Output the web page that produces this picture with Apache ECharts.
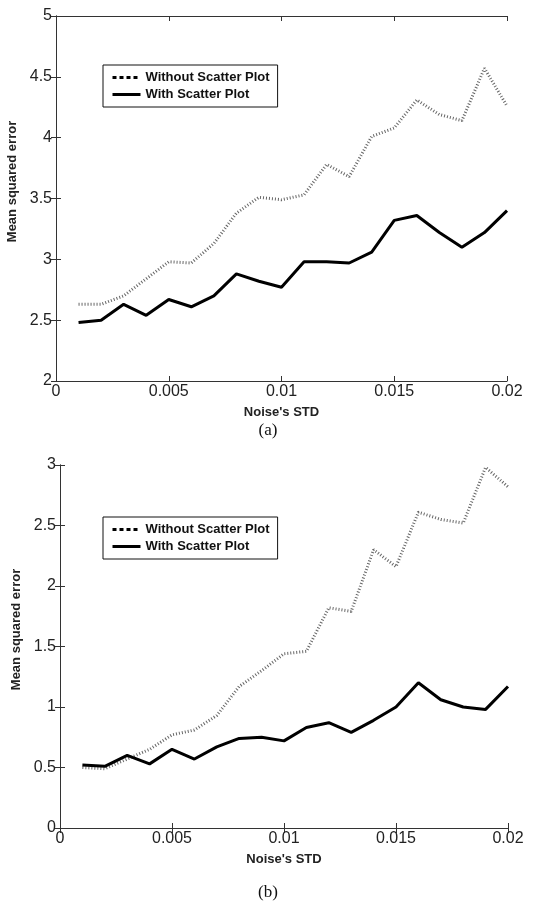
<!DOCTYPE html>
<html>
<head>
<meta charset="utf-8">
<script src="https://cdn.jsdelivr.net/npm/echarts@6/dist/echarts.min.js"></script>
<style>
  html, body { margin: 0; padding: 0; background: #fff; }
  #chart { width: 536px; height: 902px; }
</style>
</head>
<body>
<div id="chart"></div>
<script>
// noise standard deviation (x values)
const noiseStd = [0.001, 0.002, 0.003, 0.004, 0.005, 0.006, 0.007, 0.008, 0.009, 0.010,
    0.011, 0.012, 0.013, 0.014, 0.015, 0.016, 0.017, 0.018, 0.019, 0.020]

// panel (a)
const withoutA = [2.63, 2.63, 2.70, 2.84, 2.98, 2.97, 3.13, 3.38, 3.51, 3.49,
    3.53, 3.78, 3.68, 4.01, 4.08, 4.31, 4.19, 4.14, 4.57, 4.26]
const withA = [2.48, 2.50, 2.63, 2.54, 2.67, 2.61, 2.70, 2.88, 2.82, 2.77,
    2.98, 2.98, 2.97, 3.06, 3.32, 3.36, 3.22, 3.10, 3.22, 3.40]

// panel (b)
const withoutB = [0.50, 0.49, 0.57, 0.65, 0.77, 0.81, 0.93, 1.17, 1.30, 1.44,
    1.46, 1.82, 1.79, 2.30, 2.16, 2.61, 2.55, 2.52, 2.98, 2.82]
const withB = [0.52, 0.51, 0.60, 0.53, 0.65, 0.57, 0.67, 0.74, 0.75, 0.72,
    0.83, 0.87, 0.79, 0.89, 1.00, 1.20, 1.06, 1.00, 0.98, 1.17]

const seriesNames = ['Without Scatter Plot', 'With Scatter Plot']
const panelLabels = ['(a)', '(b)']

const pair = ys => noiseStd.map((x, i) => [x, ys[i]])

const sans = 'Liberation Sans, Arial, sans-serif'
const frame = { show: true, lineStyle: { color: '#333', width: 1 } }

function xAxes(gridIndex) {
    const base = {
        type: 'value', gridIndex, min: 0, max: 0.02, interval: 0.005,
        splitLine: { show: false },
        axisLine: frame,
        axisTick: { show: true, inside: true, length: 5, lineStyle: { color: '#333' } }
    }
    return [
        {
            ...base,
            position: 'bottom',
            axisLabel: { fontFamily: sans, fontSize: 16, color: '#222', margin: 3 },
            name: "Noise's STD",
            nameLocation: 'middle',
            nameGap: 25,
            nameTextStyle: { fontFamily: sans, fontSize: 13, fontWeight: 'bold', color: '#222' }
        },
        { ...base, position: 'top', axisLabel: { show: false } }
    ]
}

function yAxes(gridIndex, min, max) {
    const base = {
        type: 'value', gridIndex, min, max, interval: 0.5,
        splitLine: { show: false },
        axisLine: frame,
        axisTick: { show: true, inside: true, length: 5, lineStyle: { color: '#333' } }
    }
    return [
        {
            ...base,
            position: 'left',
            axisLabel: { fontFamily: sans, fontSize: 16, color: '#222', margin: 4 },
            name: 'Mean squared error',
            nameLocation: 'middle',
            nameGap: 37,
            nameRotate: 90,
            nameTextStyle: { fontFamily: sans, fontSize: 13, fontWeight: 'bold', color: '#222', padding: [0, 0, 0, 34] }
        },
        { ...base, position: 'right', axisLabel: { show: false } }
    ]
}

function legendFor(top) {
    return {
        orient: 'vertical',
        left: 103,
        top,
        itemWidth: 28,
        itemHeight: 12,
        itemGap: 4,
        padding: [6, 8, 6, 8],
        borderColor: '#111',
        borderWidth: 1,
        backgroundColor: '#fff',
        textStyle: { fontFamily: sans, fontSize: 13, fontWeight: 'bold', color: '#111' },
        data: [
            { name: seriesNames[0], itemStyle: { color: '#000', opacity: 0 }, lineStyle: { color: '#000', type: [4, 3], width: 3 } },
            { name: seriesNames[1], itemStyle: { color: '#000', opacity: 0 }, lineStyle: { color: '#000', type: 'solid', width: 3 } }
        ]
    }
}

function lines(xAxisIndex, yAxisIndex, without, withS) {
    return [
        {
            name: seriesNames[0], type: 'line', xAxisIndex, yAxisIndex,
            data: pair(without), symbol: 'none', z: 2,
            lineStyle: { color: '#666', width: 3, type: [1, 2] },
            itemStyle: { color: '#666' }
        },
        {
            name: seriesNames[1], type: 'line', xAxisIndex, yAxisIndex,
            data: pair(withS), symbol: 'none', z: 3,
            lineStyle: { color: '#000', width: 3 },
            itemStyle: { color: '#000' }
        }
    ]
}

const chart = echarts.init(document.getElementById('chart'))
chart.setOption({
    backgroundColor: '#fff',
    animation: false,
    title: [
        { text: panelLabels[0], left: 'center', top: 417, textStyle: { fontFamily: 'Liberation Serif, Times New Roman, serif', fontSize: 17, fontWeight: 'normal', color: '#111' } },
        { text: panelLabels[1], left: 'center', top: 879, textStyle: { fontFamily: 'Liberation Serif, Times New Roman, serif', fontSize: 17, fontWeight: 'normal', color: '#111' } }
    ],
    legend: [legendFor(65), legendFor(517)],
    grid: [
        { left: 56, top: 16, width: 451, height: 365, outerBoundsMode: 'none' },
        { left: 60, top: 465, width: 448, height: 363, outerBoundsMode: 'none' }
    ],
    xAxis: [...xAxes(0), ...xAxes(1)],
    yAxis: [...yAxes(0, 2, 5), ...yAxes(1, 0, 3)],
    series: [...lines(0, 0, withoutA, withA), ...lines(2, 2, withoutB, withB)]
})
</script>
</body>
</html>
